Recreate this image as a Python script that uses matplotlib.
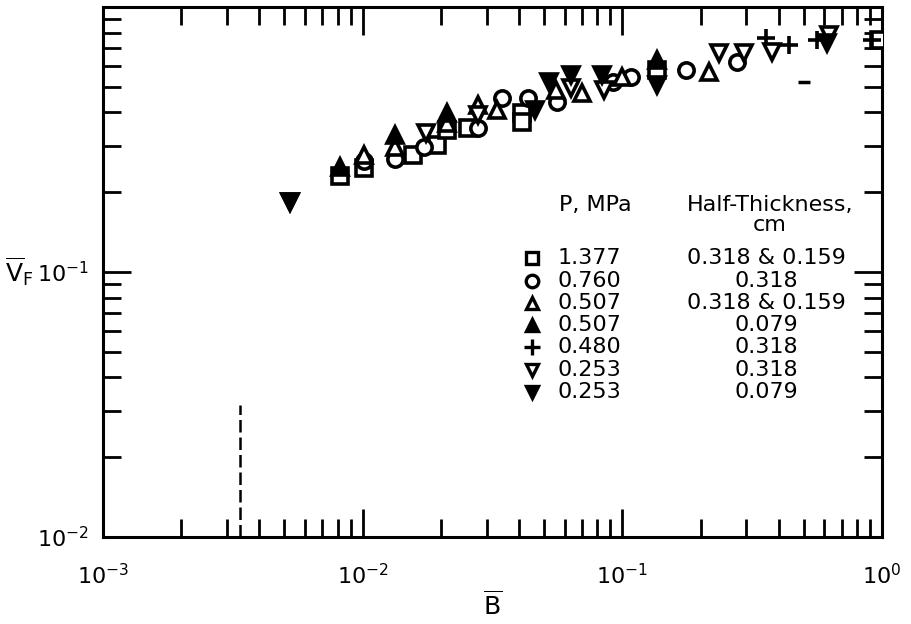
import numpy as np
import matplotlib
matplotlib.use("Agg")
import matplotlib.pyplot as plt
from matplotlib.ticker import LogLocator, NullFormatter

plt.rcParams['font.family'] = ['DejaVu Sans']
plt.rcParams['mathtext.default'] = 'regular'

# ---- data ----
sq_x = [0.00816, 0.0101, 0.01556, 0.0193, 0.0212, 0.0254, 0.0409, 0.0409, 0.1365, 0.973]
sq_y = [0.230, 0.246, 0.276, 0.301, 0.344, 0.349, 0.398, 0.368, 0.578, 0.750]

ci_x = [0.0101, 0.01327, 0.0173, 0.0277, 0.0345, 0.0432, 0.0562, 0.0917, 0.1084, 0.176, 0.2766]
ci_y = [0.262, 0.267, 0.296, 0.349, 0.454, 0.454, 0.438, 0.521, 0.545, 0.578, 0.619]

tr_x = [0.0101, 0.01327, 0.0212, 0.0277, 0.033, 0.0557, 0.0701, 0.100, 0.216]
tr_y = [0.276, 0.297, 0.365, 0.427, 0.408, 0.486, 0.473, 0.545, 0.569]

trf_x = [0.00816, 0.01327, 0.0212, 0.1365]
trf_y = [0.249, 0.329, 0.398, 0.631]

pl_x = [0.358, 0.438, 0.562, 0.917]
pl_y = [0.764, 0.720, 0.750, 0.750]

dn_x = [0.00524, 0.0176, 0.0277, 0.0637, 0.0853, 0.236, 0.294, 0.378, 0.625]
dn_y = [0.184, 0.335, 0.391, 0.494, 0.486, 0.670, 0.670, 0.676, 0.783]

dnf_x = [0.00524, 0.0459, 0.0524, 0.0637, 0.0838, 0.1365, 0.614]
dnf_y = [0.184, 0.408, 0.521, 0.553, 0.553, 0.508, 0.731]

stray_x = [0.501]
stray_y = [0.521]

limit_x = [0.00336, 0.00336]
limit_y = [0.01, 0.0315]

pressures = ['1.377', '0.760', '0.507', '0.507', '0.480', '0.253', '0.253']
thickness = ['0.318 & 0.159', '0.318', '0.318 & 0.159', '0.079', '0.318', '0.318', '0.079']

# ---- styles ----
styles = [
    dict(marker='s', mfc='white', mec='black'),
    dict(marker='o', mfc='white', mec='black'),
    dict(marker='^', mfc='white', mec='black'),
    dict(marker='^', mfc='black', mec='black'),
    dict(marker='+', mfc='black', mec='black'),
    dict(marker='v', mfc='white', mec='black'),
    dict(marker='v', mfc='black', mec='black'),
]
series = [(sq_x, sq_y), (ci_x, ci_y), (tr_x, tr_y), (trf_x, trf_y),
          (pl_x, pl_y), (dn_x, dn_y), (dnf_x, dnf_y)]

fig = plt.figure(figsize=(9.11, 6.24), dpi=100)
ax = fig.add_axes([103/911, 1-537/624, 779/911, 530/624])
ax.set_xscale('log')
ax.set_yscale('log')
ax.set_xlim(1e-3, 1.0)
ax.set_ylim(1e-2, 1.0)

for (xs, ys), st in zip(series, styles):
    ms = 13 if st['marker'] == '+' else 11
    ax.plot(xs, ys, linestyle='none', markersize=ms, markeredgewidth=2.6, zorder=3, **st)
ax.plot(stray_x, stray_y, linestyle='none', marker='_', markersize=8,
        markeredgewidth=2.5, color='black')
ax.plot(limit_x, limit_y, color='black', linewidth=1.8, linestyle=(0, (5, 2)))

# ticks
ax.xaxis.set_minor_locator(LogLocator(base=10, subs=np.arange(2, 10), numticks=20))
ax.yaxis.set_minor_locator(LogLocator(base=10, subs=np.arange(2, 10), numticks=20))
ax.xaxis.set_minor_formatter(NullFormatter())
ax.yaxis.set_minor_formatter(NullFormatter())
ax.set_yticks([1e-2, 1e-1])
ax.set_yticklabels([r'$10^{-2}$', r'$10^{-1}$'])
ax.set_xticks([1e-3, 1e-2, 1e-1, 1e0])
ax.set_xticklabels([r'$10^{-3}$', r'$10^{-2}$', r'$10^{-1}$', r'$10^{0}$'])
ax.tick_params(which='both', direction='in', top=True, right=True, width=2, colors='black')
ax.tick_params(which='major', length=20, labelsize=16)
ax.tick_params(which='minor', length=13)
ax.tick_params(axis='x', which='major', pad=19)
ax.tick_params(axis='y', which='major', pad=10)
for s in ax.spines.values():
    s.set_linewidth(2.2)

ax.text(0.5, -0.128, r'$\overline{B}$', transform=ax.transAxes, fontsize=18,
        ha='center', va='center')
ax.text(-0.108, 0.5, r'$\overline{V}_F$', transform=ax.transAxes, fontsize=18,
        ha='center', va='center')

# legend table
fs = 16
ax.text(0.585, 0.626, 'P, MPa', transform=ax.transAxes, fontsize=fs, ha='left', va='center')
ax.text(0.856, 0.626, 'Half-Thickness,', transform=ax.transAxes, fontsize=fs, ha='center', va='center')
ax.text(0.856, 0.588, 'cm', transform=ax.transAxes, fontsize=fs, ha='center', va='center')
row0 = 0.526
dy = 0.0421
for i, (st, p, t) in enumerate(zip(styles, pressures, thickness)):
    yy = row0 - i * dy
    ms = 11 if st['marker'] == '+' else 9
    ax.plot([0.551], [yy], transform=ax.transAxes, linestyle='none', markersize=ms,
            markeredgewidth=2.4, clip_on=False, **st)
    ax.text(0.583, yy, p, transform=ax.transAxes, fontsize=fs, ha='left', va='center')
    ax.text(0.852, yy, t, transform=ax.transAxes, fontsize=fs, ha='center', va='center')

fig.savefig('out.png', dpi=100)
